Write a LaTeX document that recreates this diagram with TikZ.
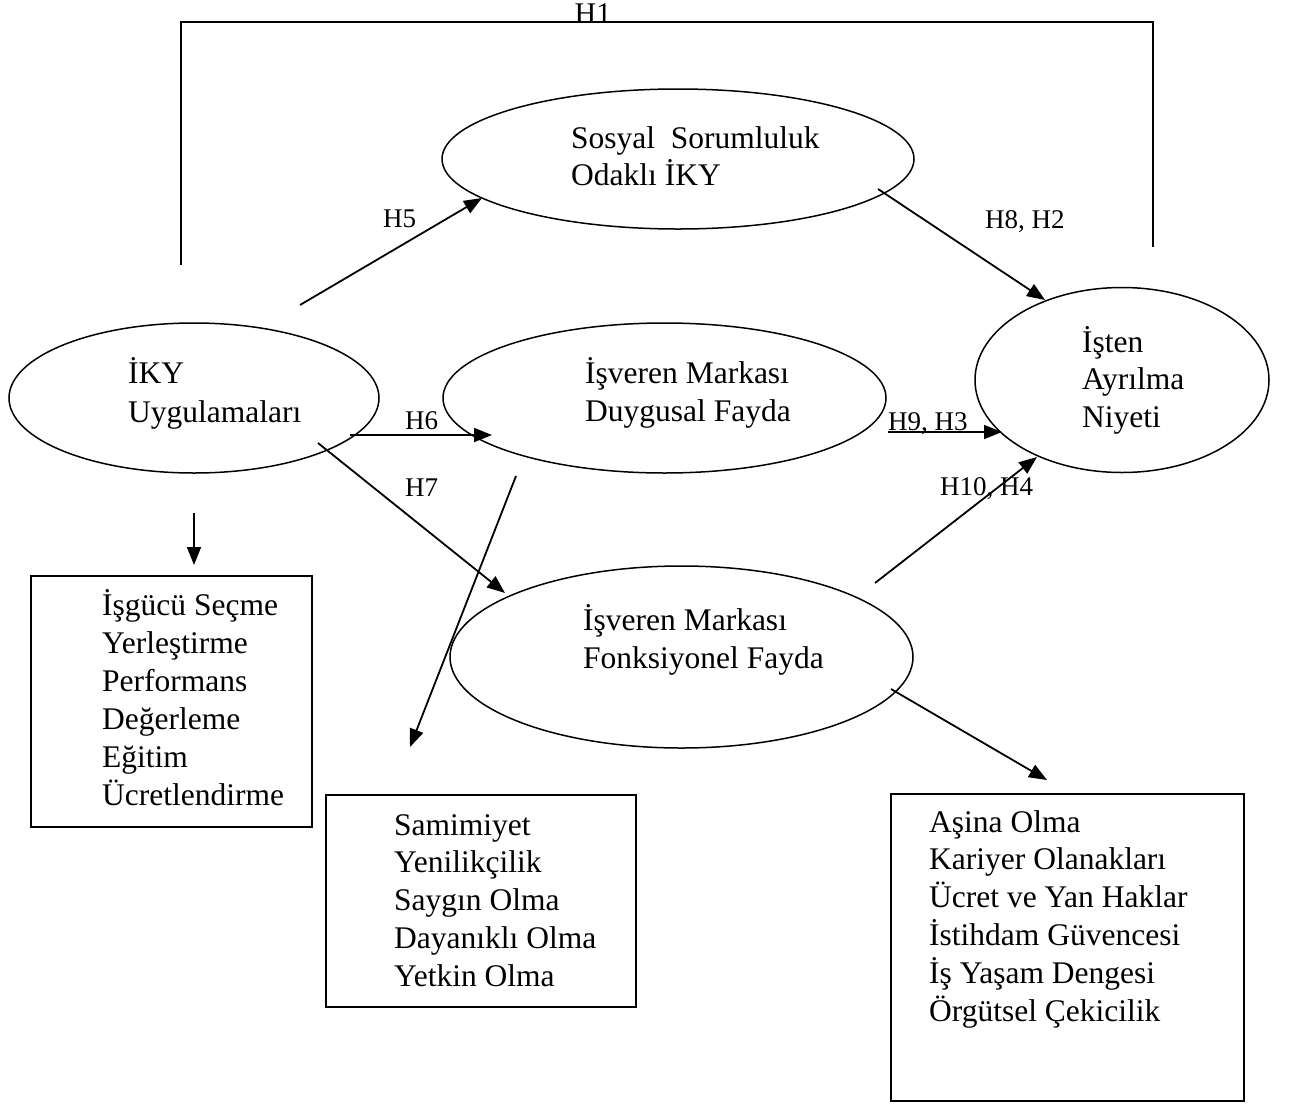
\documentclass[tikz,border=0pt]{standalone}
\usepackage{fontspec}
\setmainfont{Liberation Serif}
\usetikzlibrary{shapes.geometric,arrows.meta}
\begin{document}
\begin{tikzpicture}[x=1pt,y=-1pt,
  shp/.style={draw, line width=1.5pt, inner sep=0pt},
  ell/.style={shp, ellipse},
  arr/.style={line width=1.8pt, -{Triangle[length=18pt,width=14pt]}},
  txt/.style={anchor=base west, inner sep=0pt, font=\fontsize{31.5}{38}\selectfont},
  lab/.style={anchor=base west, inner sep=0pt, font=\fontsize{27}{30}\selectfont}]
\useasboundingbox[fill=white] (0,0) rectangle (1294,1117);

% H1 frame
\coordinate (fa) at (181,265);
\coordinate (fb) at (181,22);
\coordinate (fc) at (1153,22);
\coordinate (fd) at (1153,247);
\draw[line width=1.5pt] (fa) -- (fb) -- (fc) -- (fd);
\node[anchor=base, inner sep=0pt, font=\fontsize{30}{32}\selectfont] (h1) at (593,23) {H1};

% ellipses
\node[ell, minimum width=472pt, minimum height=140pt] (sos) at (678,159) {};
\node[ell, minimum width=370pt, minimum height=150pt] (iky) at (194,398) {};
\node[ell, minimum width=443pt, minimum height=150pt] (duy) at (664.5,398) {};
\node[ell, minimum width=294pt, minimum height=185pt] (ist) at (1122,380) {};
\node[ell, minimum width=463pt, minimum height=182pt] (fon) at (681.5,657) {};

% ellipse texts
\node[txt] (sos1) at (571,148) {Sosyal\ \ Sorumluluk};
\node[txt] (sos2) at (571,185) {Odaklı İKY};
\node[txt] (iky1) at (128,383) {İKY};
\node[txt] (iky2) at (128,422) {Uygulamaları};
\node[txt] (duy1) at (585,383) {İşveren Markası};
\node[txt] (duy2) at (585,421) {Duygusal Fayda};
\node[txt] (ist1) at (1082,352) {İşten};
\node[txt] (ist2) at (1082,389) {Ayrılma};
\node[txt] (ist3) at (1082,427) {Niyeti};
\node[txt] (fon1) at (583,630) {İşveren Markası};
\node[txt] (fon2) at (583,668) {Fonksiyonel Fayda};

% boxes
\node[shp, rectangle, anchor=north west, minimum width=281pt, minimum height=251pt] (box1) at (30,575) {};
\node[shp, rectangle, anchor=north west, minimum width=310pt, minimum height=212pt] (box2) at (325,794) {};
\node[shp, rectangle, anchor=north west, minimum width=353pt, minimum height=307pt] (box3) at (890,793) {};

\foreach \t [count=\i] in {İşgücü Seçme, Yerleştirme, Performans, Değerleme, Eğitim, Ücretlendirme}
  \node[txt] (ba\i) at (102,615+38*\i-38) {\t};
\foreach \t [count=\i] in {Samimiyet, Yenilikçilik, Saygın Olma, Dayanıklı Olma, Yetkin Olma}
  \node[txt] (bb\i) at (394,835+37.75*\i-37.75) {\t};
\foreach \t [count=\i] in {Aşina Olma, Kariyer Olanakları, Ücret ve Yan Haklar, İstihdam Güvencesi, İş Yaşam Dengesi, Örgütsel Çekicilik}
  \node[txt] (bc\i) at (929,832+37.8*\i-37.8) {\t};

% arrow end points
\coordinate (a5s) at (300,305);  \coordinate (a5e) at (482,198);
\coordinate (a6s) at (350,435);  \coordinate (a6e) at (492,435);
\coordinate (a7s) at (318,443);  \coordinate (a7e) at (505,593);
\coordinate (abs) at (194,513);  \coordinate (abe) at (194,565);
\coordinate (ads) at (516,476);  \coordinate (ade) at (410,747);
\coordinate (a8s) at (878,189);  \coordinate (a8e) at (1045,300);
\coordinate (a9s) at (888,432);  \coordinate (a9e) at (1002,432);
\coordinate (a10s) at (875,583); \coordinate (a10e) at (1037,457);
\coordinate (afs) at (891,689);  \coordinate (afe) at (1047,780);

\draw[arr] (a5s) -- (a5e);
\draw[arr] (a6s) -- (a6e);
\draw[arr] (a7s) -- (a7e);
\draw[arr] (abs) -- (abe);
\draw[arr] (ads) -- (ade);
\draw[arr] (a8s) -- (a8e);
\draw[arr] (a9s) -- (a9e);
\draw[arr] (a10s) -- (a10e);
\draw[arr] (afs) -- (afe);

% labels
\node[lab] (l5) at (383,227) {H5};
\node[lab] (l6) at (405,429) {H6};
\node[lab] (l7) at (405,496) {H7};
\node[lab] (l8) at (985,228) {H8, H2};
\node[lab] (l9) at (888,430) {H9, H3};
\node[lab] (l10) at (940,495) {H10, H4};
\end{tikzpicture}
\end{document}
